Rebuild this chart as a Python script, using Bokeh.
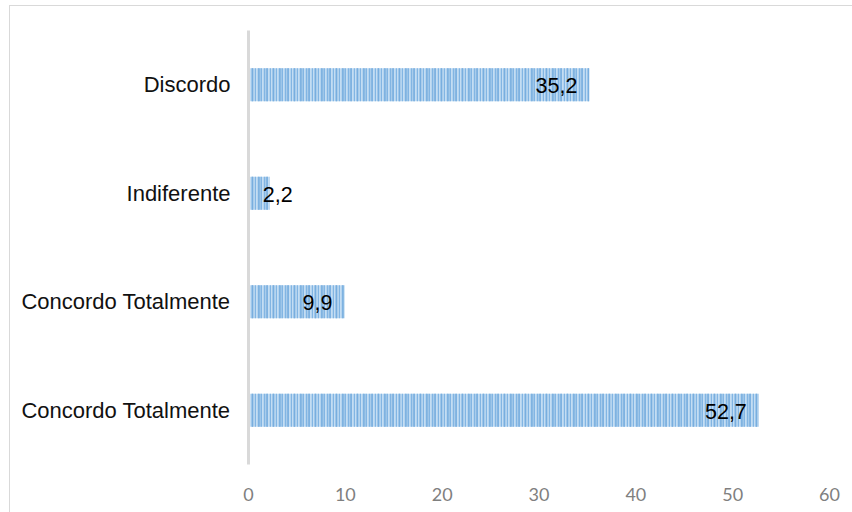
from bokeh.plotting import figure
from bokeh.models import Range1d, FixedTicker, ColumnDataSource
from bokeh.embed import file_html
from bokeh.resources import INLINE
from bokeh.core.properties import value

categories = ["Discordo", "Indiferente", "Concordo Totalmente", "Concordo Totalmente"]
values = [35.2, 2.2, 9.9, 52.7]
x_ticks = [0, 10, 20, 30, 40, 50, 60]

n = len(categories)
ypos = [n - 1 - i for i in range(n)]
labels = [f"{v:.1f}".replace(".", ",") for v in values]
aligns = ["right" if v > 5 else "left" for v in values]
offsets = [-12 if v > 5 else -7 for v in values]

src = ColumnDataSource(dict(y=ypos, v=values, lab=labels, al=aligns, off=offsets))

p = figure(width=843, height=507, output_backend="svg", toolbar_location=None,
           x_range=Range1d(0, 60), y_range=Range1d(-0.5, n - 0.5),
           min_border_left=238, min_border_right=24, min_border_top=24, min_border_bottom=49)
p.margin = (5, 0, 0, 9)
p.styles = {"border-top": "1px solid #d9d9d9", "border-left": "1px solid #d9d9d9"}
p.outline_line_color = None
p.background_fill_color = "white"
p.border_fill_color = "white"
p.xgrid.visible = False
p.ygrid.visible = False

p.hbar(y="y", right="v", left=0, height=0.305, source=src,
       fill_color="#c4ddf3", line_color=None,
       hatch_pattern="vertical_line", hatch_color="#82b5e3", hatch_scale=3, hatch_weight=1.5)
p.hbar(y="y", right="v", left=0, height=0.305, source=src,
       fill_alpha=0, line_color=None,
       hatch_pattern="vertical_line", hatch_color="#74abdd", hatch_scale=7, hatch_weight=2, hatch_alpha=0.7)

p.text(x="v", y="y", text="lab", source=src, text_align="al", x_offset="off", y_offset=1,
       text_baseline="middle", text_font=value("Liberation Sans"), text_font_size="21.5px",
       text_color="#000000")

# y axis
p.yaxis.ticker = FixedTicker(ticks=ypos)
p.yaxis.major_label_overrides = {y: c for y, c in zip(ypos, categories)}
p.yaxis.axis_line_color = "#d9d9d9"
p.yaxis.axis_line_width = 3
p.yaxis.major_tick_line_color = None
p.yaxis.minor_tick_line_color = None
p.yaxis.major_label_standoff = 12
p.yaxis.major_label_text_font = "Liberation Sans"
p.yaxis.major_label_text_font_size = "22px"
p.yaxis.major_label_text_color = "#111111"

# x axis
p.xaxis.ticker = FixedTicker(ticks=x_ticks)
p.xaxis.axis_line_color = None
p.xaxis.major_tick_line_color = None
p.xaxis.minor_tick_line_color = None
p.xaxis.major_label_standoff = 17
p.xaxis.major_label_text_font = "Lato"
p.xaxis.major_label_text_font_size = "18px"
p.xaxis.major_label_text_color = "#7f7f7f"

open("out.html", "w").write(file_html(p, INLINE))
